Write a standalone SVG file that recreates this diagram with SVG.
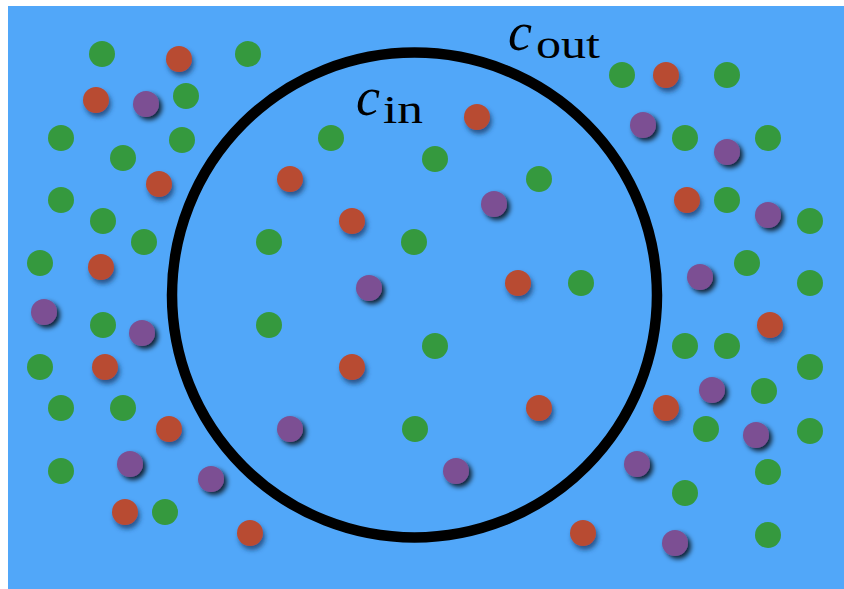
<svg xmlns="http://www.w3.org/2000/svg" width="844" height="589" viewBox="0 0 844 589">
<style>
.g{fill:#35993e}
.r{fill:#b84b33;filter:url(#sh)}
.p{fill:#7b4f93;filter:url(#shp)}
.lbl{font-family:"Liberation Serif","Times New Roman",serif;fill:#000}
</style>
<defs>
<filter id="sh" x="-50%" y="-50%" width="200%" height="200%">
<feDropShadow dx="2" dy="4" stdDeviation="2.8" flood-color="#1a3a66" flood-opacity="0.75"/>
</filter>
<filter id="shp" x="-50%" y="-50%" width="200%" height="200%">
<feDropShadow dx="3" dy="3" stdDeviation="2.4" flood-color="#000" flood-opacity="0.8"/>
</filter>
</defs>
<rect x="8" y="6" width="836" height="583" fill="#51a7f9"/>
<circle id="membrane" cx="414.5" cy="295" r="242.5" fill="none" stroke="#000" stroke-width="10.5"/>
<g id="green" class="g">
<circle cx="102" cy="54" r="13"/><circle cx="248" cy="54" r="13"/><circle cx="186" cy="96" r="13"/>
<circle cx="61" cy="138" r="13"/><circle cx="123" cy="158" r="13"/><circle cx="182" cy="140" r="13"/>
<circle cx="61" cy="200" r="13"/><circle cx="103" cy="221" r="13"/><circle cx="144" cy="242" r="13"/>
<circle cx="40" cy="263" r="13"/><circle cx="103" cy="325" r="13"/><circle cx="40" cy="367" r="13"/>
<circle cx="61" cy="408" r="13"/><circle cx="123" cy="408" r="13"/><circle cx="61" cy="471" r="13"/>
<circle cx="165" cy="512" r="13"/>
<circle cx="331" cy="138" r="13"/><circle cx="435" cy="159" r="13"/><circle cx="539" cy="179" r="13"/>
<circle cx="269" cy="242" r="13"/><circle cx="414" cy="242" r="13"/><circle cx="581" cy="283" r="13"/>
<circle cx="269" cy="325" r="13"/><circle cx="435" cy="346" r="13"/><circle cx="415" cy="429" r="13"/>
<circle cx="622" cy="75" r="13"/><circle cx="727" cy="75" r="13"/><circle cx="685" cy="138" r="13"/>
<circle cx="768" cy="138" r="13"/><circle cx="727" cy="200" r="13"/><circle cx="810" cy="221" r="13"/>
<circle cx="747" cy="263" r="13"/><circle cx="810" cy="283" r="13"/><circle cx="685" cy="346" r="13"/>
<circle cx="727" cy="346" r="13"/><circle cx="810" cy="367" r="13"/><circle cx="764" cy="391" r="13"/>
<circle cx="706" cy="429" r="13"/><circle cx="810" cy="431" r="13"/><circle cx="768" cy="472" r="13"/>
<circle cx="685" cy="493" r="13"/><circle cx="768" cy="535" r="13"/>
</g>
<g id="red">
<circle class="r" cx="179" cy="59" r="13"/><circle class="r" cx="96" cy="100" r="13"/><circle class="r" cx="159" cy="184" r="13"/>
<circle class="r" cx="101" cy="267" r="13"/><circle class="r" cx="105" cy="367" r="13"/><circle class="r" cx="169" cy="429" r="13"/>
<circle class="r" cx="125" cy="512" r="13"/><circle class="r" cx="250" cy="533" r="13"/>
<circle class="r" cx="477" cy="117" r="13"/><circle class="r" cx="290" cy="179" r="13"/><circle class="r" cx="352" cy="221" r="13"/>
<circle class="r" cx="518" cy="283" r="13"/><circle class="r" cx="352" cy="367" r="13"/><circle class="r" cx="539" cy="408" r="13"/>
<circle class="r" cx="666" cy="75" r="13"/><circle class="r" cx="687" cy="200" r="13"/><circle class="r" cx="770" cy="325" r="13"/>
<circle class="r" cx="666" cy="408" r="13"/><circle class="r" cx="583" cy="533" r="13"/>
</g>
<g id="purple">
<circle class="p" cx="146" cy="104" r="13"/><circle class="p" cx="44" cy="312" r="13"/><circle class="p" cx="142" cy="333" r="13"/>
<circle class="p" cx="130" cy="464" r="13"/><circle class="p" cx="211" cy="479" r="13"/>
<circle class="p" cx="494" cy="204" r="13"/><circle class="p" cx="369" cy="288" r="13"/><circle class="p" cx="290" cy="429" r="13"/>
<circle class="p" cx="456" cy="471" r="13"/>
<circle class="p" cx="643" cy="125" r="13"/><circle class="p" cx="727" cy="152" r="13"/><circle class="p" cx="768" cy="215" r="13"/>
<circle class="p" cx="700" cy="277" r="13"/><circle class="p" cx="712" cy="390" r="13"/><circle class="p" cx="756" cy="435" r="13"/>
<circle class="p" cx="637" cy="464" r="13"/><circle class="p" cx="675" cy="543" r="13"/>
</g>
<g id="label-cin" class="lbl">
<text x="356" y="115" font-size="54" font-style="italic">c</text>
<text x="383" y="123" font-size="40" textLength="40" lengthAdjust="spacingAndGlyphs">in</text>
</g>
<g id="label-cout" class="lbl">
<text x="508" y="50" font-size="54" font-style="italic">c</text>
<text x="536" y="58" font-size="40" textLength="64" lengthAdjust="spacingAndGlyphs">out</text>
</g>
</svg>
